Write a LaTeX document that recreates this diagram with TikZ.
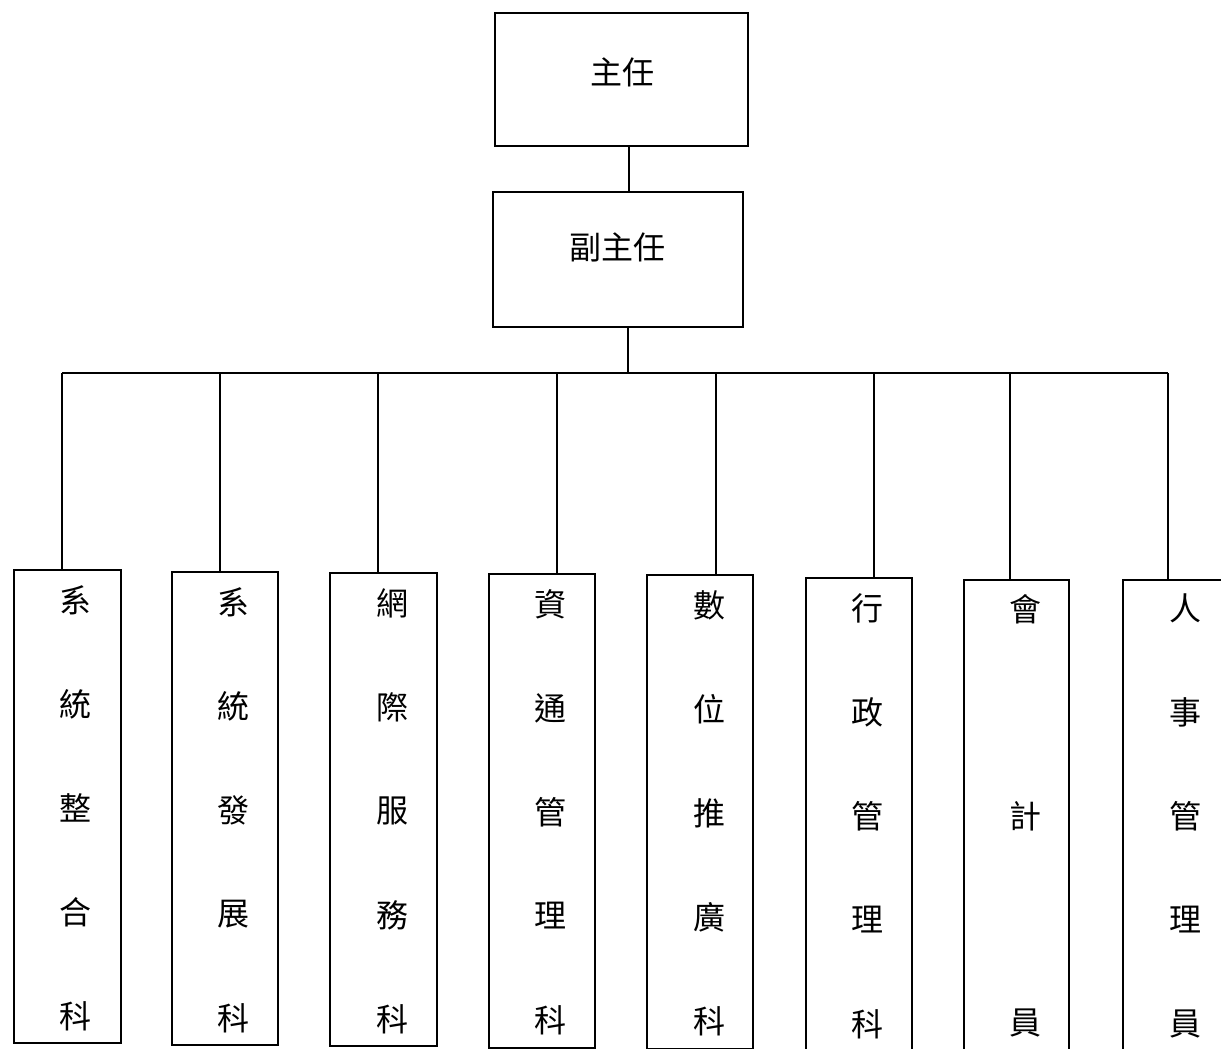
\documentclass[tikz,border=0pt]{standalone}
\usepackage{fontspec}
\newfontfamily\cjk{Noto Sans CJK TC}
\begin{document}
\begin{tikzpicture}[x=0.5pt,y=-0.5pt,
  box/.style={draw, line width=1pt, inner sep=0pt},
  lbl/.style={font=\cjk\fontsize{16pt}{16pt}\selectfont, inner sep=0pt},
  conn/.style={line width=0.9pt}]
\useasboundingbox (0,0) rectangle (1221,1049);
% top boxes
\node[box, minimum width=126.5pt, minimum height=66.5pt] (dir) at (621.5,79.5) {};
\node[lbl] (tdir) at (622,72) {主任};
\node[box, minimum width=125pt, minimum height=67.5pt] (dep) at (618,259.5) {};
\node[lbl] (tdep) at (617,247) {副主任};
\coordinate (c1) at (629,0);
\draw[conn] (dir.south -| c1) -- (dep.north -| c1);
\coordinate (hub) at (628,373);
\draw[conn] (dep.south -| hub) -- (hub);
% bottom boxes
\node[box, minimum width=53.5pt, minimum height=236.5pt] (d1) at (67.5,806.5) {};
\node[box, minimum width=53pt, minimum height=236.5pt] (d2) at (225,808.5) {};
\node[box, minimum width=53.5pt, minimum height=236.5pt] (d3) at (383.5,809.5) {};
\node[box, minimum width=53pt, minimum height=237pt] (d4) at (542,811) {};
\node[box, minimum width=53pt, minimum height=237pt] (d5) at (700,812) {};
\node[box, minimum width=53pt, minimum height=246pt] (d6) at (859,824) {};
\node[box, minimum width=52.5pt, minimum height=245pt] (d7) at (1016.5,824.5) {};
\node[box, minimum width=58.5pt, minimum height=245pt] (d8) at (1181.5,825) {};
% bus
\coordinate (b1) at (62,373);
\coordinate (b2) at (220,373);
\coordinate (b3) at (378,373);
\coordinate (b4) at (557,373);
\coordinate (b5) at (716,373);
\coordinate (b6) at (874,373);
\coordinate (b7) at (1010,373);
\coordinate (b8) at (1168,373);
\draw[conn] (b1) -- (b8);
\foreach \i in {1,...,8} \draw[conn] (b\i) -- (b\i |- d\i.north);
% labels
\foreach \c [count=\i] in {系,統,整,合,科} \node[lbl] (d1t\i) at (75,{600+104*(\i-1)}) {\c};
\foreach \c [count=\i] in {系,統,發,展,科} \node[lbl] (d2t\i) at (233,{602+104*(\i-1)}) {\c};
\foreach \c [count=\i] in {網,際,服,務,科} \node[lbl] (d3t\i) at (392,{603+104*(\i-1)}) {\c};
\foreach \c [count=\i] in {資,通,管,理,科} \node[lbl] (d4t\i) at (550,{604+104*(\i-1)}) {\c};
\foreach \c [count=\i] in {數,位,推,廣,科} \node[lbl] (d5t\i) at (709,{605+104*(\i-1)}) {\c};
\foreach \c [count=\i] in {行,政,管,理,科} \node[lbl] (d6t\i) at (867,{608+104*(\i-1)}) {\c};
\foreach \c [count=\i] in {會,計,員} \node[lbl] (d7t\i) at (1025,{609+207*(\i-1)}) {\c};
\foreach \c [count=\i] in {人,事,管,理,員} \node[lbl] (d8t\i) at (1185,{608+104*(\i-1)}) {\c};
\end{tikzpicture}
\end{document}
